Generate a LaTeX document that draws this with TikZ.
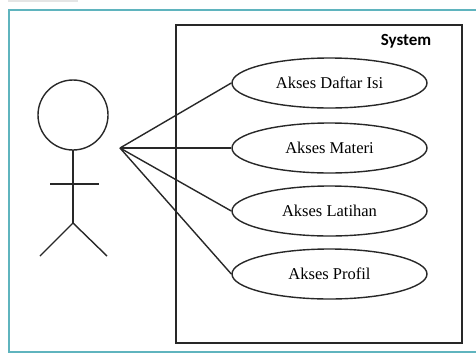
\documentclass[tikz,border=0pt]{standalone}
\usepackage{fontspec}
\setmainfont{Liberation Serif}
\newfontfamily\sysfont{Carlito}
\usetikzlibrary{shapes.geometric}
\definecolor{frameteal}{RGB}{95,180,190}
\definecolor{linegray}{RGB}{40,40,40}
\tikzset{
  usecase/.style={ellipse,draw=linegray,line width=1.4pt,minimum width=195pt,
    minimum height=50pt,inner sep=0pt,font=\fontsize{16.5}{19}\selectfont},
  stick/.style={draw=linegray,line width=1.4pt}
}

\begin{document}
\begin{tikzpicture}[x=1pt,y=-1pt]
  \useasboundingbox (0,0) rectangle (476,354);
  \fill[white] (0,0) rectangle (476,354);
  \fill[gray!20] (8,0) rectangle (78,2);
  % outer frame
  \draw[frameteal,line width=2.5pt] (476,10) -- (9,10) -- (9,352) -- (476,352);
  % system boundary
  \draw[linegray,line width=1.8pt] (176,25) rectangle (462,343);
  \draw (406,41) node[font=\sysfont\bfseries\fontsize{17}{20}\selectfont] (sys) {System};

  % actor
  \draw[stick] (73,115) circle (35pt);
  \draw[stick] (73,150) -- (73,223);
  \draw[stick] (50,184) -- (99,184);
  \draw[stick] (40,256) -- (73,223) -- (107,256);
  \coordinate (hand) at (120,148);

  % use cases
  \draw (329.5,83)  node[usecase] (daftar)  {Akses Daftar Isi};
  \draw (329.5,148) node[usecase] (materi)  {Akses Materi};
  \draw (329.5,211) node[usecase] (latihan) {Akses Latihan};
  \draw (329.5,274) node[usecase] (profil)  {Akses Profil};

  \draw[stick] (hand) -- (daftar.west);
  \draw[stick] (hand) -- (materi.west);
  \draw[stick] (hand) -- (latihan.west);
  \draw[stick] (hand) -- (profil.west);
\end{tikzpicture}
\end{document}
